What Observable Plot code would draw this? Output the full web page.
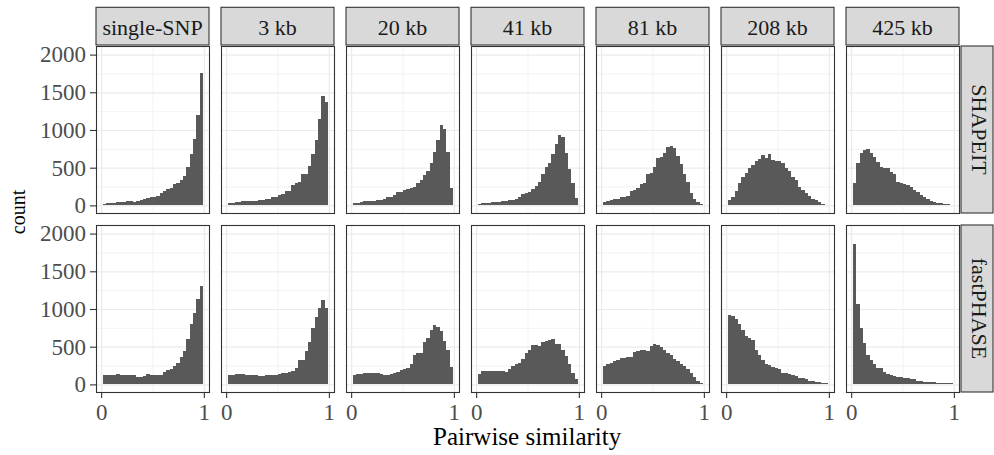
<!DOCTYPE html>
<html>
<head>
<meta charset="utf-8">
<script src="https://cdn.jsdelivr.net/npm/d3@7"></script>
<script src="https://cdn.jsdelivr.net/npm/@observablehq/plot@0.6"></script>
<style>
  html, body { margin: 0; padding: 0; background: #fff; }
  svg { display: block; }
  svg text { font-family: "Liberation Serif", "Times New Roman", serif; }
</style>
</head>
<body>
<div id="chart"></div>
<script>
// ---------- data ----------
const panels = ["single-SNP", "3 kb", "20 kb", "41 kb", "81 kb", "208 kb", "425 kb"];
const methods = ["SHAPEIT", "fastPHASE"];
const binStart = 0.018;   // left edge of first histogram bin (similarity)
const binWidth = 0.0325;  // bin width (similarity)
const xTicks = [0, 1];
const yTicks = [0, 500, 1000, 1500, 2000];

const shapeit_single = [18,26,31,35,40,44,48,53,55,45,62,70,79,97,105,114,123,158,189,211,224,290,299,334,387,510,677,879,1204,1762];
const shapeit_3kb    = [26,35,44,48,53,57,53,57,62,66,70,79,88,105,114,136,145,185,193,268,299,308,422,422,523,677,861,1142,1454,1375];
const shapeit_20kb   = [26,35,48,53,57,57,62,66,70,79,105,114,136,171,180,202,211,224,246,299,343,404,457,567,707,861,1072,1019,707,233];
const shapeit_41kb   = [22,26,31,35,40,44,48,57,62,66,70,83,114,145,167,180,220,255,312,422,510,567,685,817,940,905,694,488,300,97];
const shapeit_81kb   = [48,60,70,80,88,105,114,120,190,200,230,290,300,420,425,510,630,640,700,780,790,760,660,545,420,310,170,80,40,20];
const shapeit_208kb  = [75,115,190,300,370,430,490,540,590,620,670,630,680,600,590,590,560,500,450,380,340,240,210,160,130,90,70,40,15,10];
const shapeit_425kb  = [299,562,694,738,742,694,641,575,510,497,497,444,422,312,299,290,268,246,202,180,136,114,83,57,44,35,26,18,13,9];

const fast_single = [119,119,119,125,141,130,127,127,127,130,97,100,115,132,120,127,127,130,160,185,200,246,290,369,444,602,804,945,1129,1305];
const fast_3kb    = [127,120,135,140,132,130,125,120,118,115,110,120,125,128,130,140,145,150,170,176,220,321,330,440,567,743,888,1011,1120,1015];
const fast_20kb   = [130,132,140,154,150,145,145,148,140,123,125,140,155,165,185,200,215,265,390,417,420,560,620,716,791,760,703,571,461,224];
const fast_41kb   = [132,180,175,172,176,176,178,180,167,206,250,272,290,338,417,450,527,527,514,558,571,593,600,540,540,461,373,277,154,75];
const fast_81kb   = [242,270,280,310,330,351,355,360,360,426,440,461,455,448,505,540,518,490,450,420,395,340,308,272,250,206,154,100,50,22];
const fast_208kb  = [923,905,866,800,725,646,620,584,461,387,330,264,255,233,215,198,154,150,132,120,110,88,80,66,50,44,35,28,20,13];
const fast_425kb  = [1867,1063,747,545,395,325,272,211,211,163,132,125,110,100,97,90,83,70,66,50,45,35,33,30,26,24,22,20,15,13];

const counts = {
  "SHAPEIT": [shapeit_single, shapeit_3kb, shapeit_20kb, shapeit_41kb, shapeit_81kb, shapeit_208kb, shapeit_425kb],
  "fastPHASE": [fast_single, fast_3kb, fast_20kb, fast_41kb, fast_81kb, fast_208kb, fast_425kb]
};

// tidy table built from the arrays
const bins = [];
for (const m of methods) {
  panels.forEach((p, pi) => {
    counts[m][pi].forEach((c, i) => {
      bins.push({method: m, panel: p, x0: binStart + i * binWidth, x1: binStart + (i + 1) * binWidth, count: c});
    });
  });
}

// ---------- style ----------
const FONT = '"Liberation Serif", "Times New Roman", serif';
const W = 994, H = 455;
const mL = 93.3, mR = 33, mT = 45, mB = 62.3;

const plot = Plot.plot({
  width: W, height: H,
  marginLeft: mL, marginRight: mR, marginTop: mT, marginBottom: mB,
  style: {fontFamily: FONT, background: "white", overflow: "visible"},
  fx: {domain: panels, paddingInner: 0.0947, paddingOuter: 0, axis: null, label: null},
  fy: {domain: methods, paddingInner: 0.0667, paddingOuter: 0, axis: null, label: null},
  x: {domain: [-0.05, 1.05], label: null},
  y: {domain: [-101, 2114], label: null},
  marks: [
    Plot.frame({fill: "white", stroke: "none"}),
    Plot.gridX([0.5], {stroke: "#EBEBEB", strokeOpacity: 1, strokeWidth: 0.6}),
    Plot.gridY([250, 750, 1250, 1750], {stroke: "#EBEBEB", strokeOpacity: 1, strokeWidth: 0.6}),
    Plot.gridX(xTicks, {stroke: "#EBEBEB", strokeOpacity: 1, strokeWidth: 1.2}),
    Plot.gridY(yTicks, {stroke: "#EBEBEB", strokeOpacity: 1, strokeWidth: 1.2}),
    Plot.rectY(bins, {x1: "x0", x2: "x1", y: "count", fx: "panel", fy: "method", fill: "#595959", inset: 0, insetLeft: 0, insetRight: 0, shapeRendering: "crispEdges"}),
    Plot.frame({stroke: "#333333", strokeWidth: 1.1}),
    Plot.axisY(yTicks, {anchor: "left", tickSize: 6, tickPadding: 4.6, fontSize: 23, tickFormat: d => String(d), stroke: "#333333", strokeWidth: 1.1, fill: "#4D4D4D", label: null}),
    Plot.axisX(xTicks, {anchor: "bottom", tickSize: 6, tickPadding: 5, fontSize: 23, tickFormat: d => String(d), stroke: "#333333", strokeWidth: 1.1, fill: "#4D4D4D", label: null})
  ]
});

// ---------- strips & titles ----------
const svg = d3.select(plot.tagName.toLowerCase() === "svg" ? plot : plot.querySelector("svg"));
const fxS = plot.scale("fx"), fyS = plot.scale("fy");
const bandX = d3.scaleBand(fxS.domain, fxS.range).paddingInner(0.0947).paddingOuter(0);
const bandY = d3.scaleBand(fyS.domain, fyS.range).paddingInner(0.0667).paddingOuter(0);
const fxPos = v => fxS.apply ? fxS.apply(v) : bandX(v);
const fyPos = v => fyS.apply ? fyS.apply(v) : bandY(v);
const bwX = fxS.bandwidth ?? bandX.bandwidth();
const bwY = fyS.bandwidth ?? bandY.bandwidth();

const g = svg.append("g").attr("class", "strips");
const stripTop = 7.3;
panels.forEach(p => {
  const x = fxPos(p);
  g.append("rect").attr("x", x).attr("y", stripTop).attr("width", bwX).attr("height", mT - stripTop)
    .attr("fill", "#D9D9D9").attr("stroke", "#333333").attr("stroke-width", 1.1);
  g.append("text").attr("x", x + bwX / 2).attr("y", 35).attr("text-anchor", "middle")
    .style("font-family", FONT).style("font-size", "22px").attr("fill", "#1A1A1A").text(p);
});
const stripLeft = W - mR;
methods.forEach(m => {
  const y = fyPos(m);
  g.append("rect").attr("x", stripLeft).attr("y", y).attr("width", W - 1 - stripLeft).attr("height", bwY)
    .attr("fill", "#D9D9D9").attr("stroke", "#333333").attr("stroke-width", 1.1);
  g.append("text").attr("transform", `translate(${stripLeft + 10.5},${y + bwY / 2}) rotate(90)`)
    .attr("text-anchor", "middle").style("font-family", FONT).style("font-size", "22px").attr("fill", "#1A1A1A").text(m);
});

// axis titles
const xMid = (mL + (W - mR)) / 2;
svg.append("text").attr("x", xMid).attr("y", 445).attr("text-anchor", "middle")
  .style("font-family", FONT).style("font-size", "25px").attr("fill", "#000").text("Pairwise similarity");
svg.append("text").attr("transform", `translate(25,212) rotate(-90)`).attr("text-anchor", "middle")
  .style("font-family", FONT).style("font-size", "20px").attr("fill", "#000").text("count");

document.getElementById("chart").appendChild(plot);
</script>
</body>
</html>
